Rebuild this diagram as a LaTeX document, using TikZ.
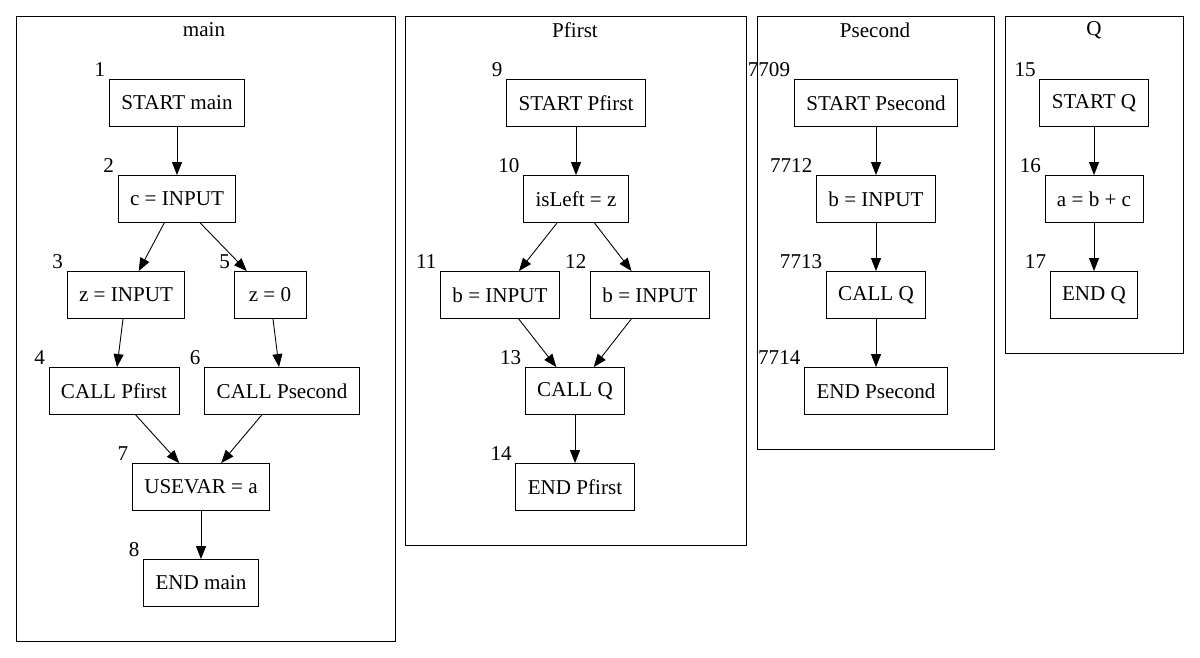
\documentclass[tikz,border=0pt]{standalone}
\usepackage{fontspec}
\setmainfont{Liberation Serif}
\usetikzlibrary{arrows.meta, positioning}

\begin{document}
\begin{tikzpicture}[node distance=1.92cm, on grid, line width=0.5pt,
    stmt/.style={draw, rectangle, minimum height=0.94cm, minimum width=1.44cm,
        inner xsep=6.8pt, font=\fontsize{12}{14}\selectfont},
    num/.style={inner sep=0.5pt, font=\fontsize{12}{14}\selectfont},
    every label/.style={num, label distance=1.5pt},
    cluster/.style={draw, line width=0.5pt},
    title/.style={font=\fontsize{12}{14}\selectfont},
    >={Triangle[length=0.26cm, width=0.2cm]}]
                \useasboundingbox (0,0) rectangle (24,-13.14);
                % main
                \draw[cluster] (0.32,-0.32) rectangle (7.9,-12.82);
                \node[title] (tmain) at (4.08,-0.6) {main};
                \node[stmt, label=north west:1] (m1) at (3.54,-2.06) {START main};
                \node[stmt, label=north west:2] (m2) [below=of m1] {c = INPUT};
                \node[stmt, label=north west:3] (m3) [below left=1.92cm and 1.02cm of m2] {z = INPUT};
                \node[stmt, label=north west:5] (m5) [below right=1.92cm and 1.86cm of m2] {z = 0};
                \node[stmt, label=north west:4] (m4) [below left=1.92cm and 0.24cm of m3] {CALL Pfirst};
                \node[stmt, label=north west:6] (m6) [below right=1.92cm and 0.24cm of m5] {CALL Psecond};
                \node[stmt, label=north west:7] (m7) [below right=1.92cm and 1.74cm of m4] {USEVAR = a};
                \node[stmt, label=north west:8] (m8) [below=of m7] {END main};
                \path[->]
                (m1) edge (m2)
                (m2) edge (m3)
                (m2) edge (m5)
                (m3) edge (m4)
                (m5) edge (m6)
                (m4) edge (m7)
                (m6) edge (m7)
                (m7) edge (m8);
                % Pfirst
                \draw[cluster] (8.1,-0.32) rectangle (14.92,-10.9);
                \node[title] (tpfirst) at (11.5,-0.6) {Pfirst};
                \node[stmt, label=north west:9] (p9) at (11.52,-2.06) {START Pfirst};
                \node[stmt, label=north west:10] (p10) [below=of p9] {isLeft = z};
                \node[stmt, label=north west:11] (p11) [below left=1.92cm and 1.52cm of p10] {b = INPUT};
                \node[stmt, label=north west:12] (p12) [below right=1.92cm and 1.48cm of p10] {b = INPUT};
                \node[stmt, label=north west:13] (p13) [below right=1.92cm and 1.5cm of p11] {CALL Q};
                \node[stmt, label=north west:14] (p14) [below=of p13] {END Pfirst};
                \path[->]
                (p9) edge (p10)
                (p10) edge (p11)
                (p10) edge (p12)
                (p11) edge (p13)
                (p12) edge (p13)
                (p13) edge (p14);
                % Psecond
                \draw[cluster] (15.14,-0.32) rectangle (19.88,-8.98);
                \node[title] (tpsecond) at (17.5,-0.6) {Psecond};
                \node[stmt, label=north west:7709] (s1) at (17.52,-2.06) {START Psecond};
                \node[stmt, label=north west:7712] (s2) [below=of s1] {b = INPUT};
                \node[stmt, label=north west:7713] (s3) [below=of s2] {CALL Q};
                \node[stmt, label=north west:7714] (s4) [below=of s3] {END Psecond};
                \path[->]
                (s1) edge (s2)
                (s2) edge (s3)
                (s3) edge (s4);
                % Q
                \draw[cluster] (20.1,-0.32) rectangle (23.66,-7.06);
                \node[title] (tq) at (21.88,-0.6) {Q};
                \node[stmt, label=north west:15] (q1) at (21.88,-2.06) {START Q};
                \node[stmt, label=north west:16] (q2) [below=of q1] {a = b + c};
                \node[stmt, label=north west:17] (q3) [below=of q2] {END Q};
                \path[->]
                (q1) edge (q2)
                (q2) edge (q3);
        \end{tikzpicture}
\end{document}
